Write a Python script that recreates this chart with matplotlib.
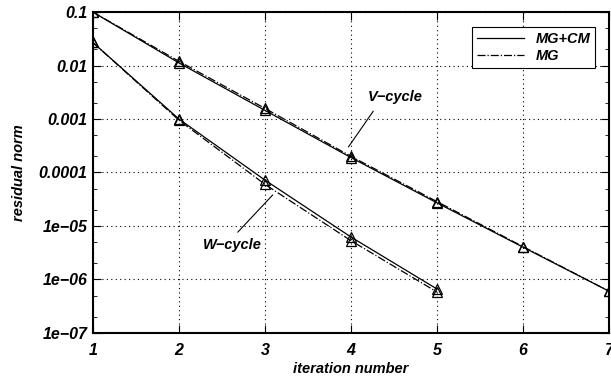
import numpy as np
from matplotlib import pyplot as plt
from matplotlib.ticker import LogLocator, NullFormatter

plt.rcParams['font.family'] = ['Liberation Sans', 'DejaVu Sans']

# data
it_v = [1, 2, 3, 4, 5, 6, 7]
v_mgcm = [0.1, 0.0112, 0.00145, 1.9e-4, 2.7e-5, 4.0e-6, 6.0e-7]
v_mg = [0.1, 0.0120, 0.00158, 2.0e-4, 2.85e-5, 4.1e-6, 6.0e-7]

it_w = [1, 2, 3, 4, 5]
w_mgcm = [0.027, 0.00100, 7.2e-5, 6.2e-6, 6.6e-7]
w_mg = [0.027, 0.00095, 6.0e-5, 5.3e-6, 5.8e-7]

yticks = [1e-1, 1e-2, 1e-3, 1e-4, 1e-5, 1e-6, 1e-7]
ylabels = ['0.1', '0.01', '0.001', '0.0001', '1e\u221205', '1e\u221206', '1e\u221207']

font = dict(fontweight='bold', fontstyle='italic')

fig = plt.figure(figsize=(6.11, 3.77), dpi=100)
ax = fig.add_axes([0.152, 0.117, 0.845, 0.851])

mk = dict(marker='^', markersize=7, markerfacecolor='none', markeredgecolor='black', markeredgewidth=0.9)
ax.plot(it_v, v_mgcm, '-', color='black', lw=0.9, label='MG+CM', **mk)
ax.plot(it_v, v_mg, '-.', color='black', lw=0.9, label='MG', **mk)
ax.plot(it_w, w_mgcm, '-', color='black', lw=0.9, **mk)
ax.plot(it_w, w_mg, '-.', color='black', lw=0.9, **mk)

ax.set_yscale('log')
ax.set_xlim(1, 7)
ax.set_ylim(1e-7, 0.1)
ax.set_yticks(yticks)
ax.set_yticklabels(ylabels)
ax.yaxis.set_minor_locator(LogLocator(base=10, subs=[2, 5]))
ax.yaxis.set_minor_formatter(NullFormatter())
ax.set_xticks(range(1, 8))

ax.tick_params(which='both', direction='in', top=True, right=True, labelsize=11.5)
ax.tick_params(which='major', length=6)
ax.tick_params(which='minor', length=3)
ax.tick_params(axis='x', pad=7)
ax.tick_params(axis='y', pad=4)
for lab in ax.get_xticklabels() + ax.get_yticklabels():
    lab.set_fontweight('bold')
    lab.set_fontstyle('italic')

ax.grid(True, which='major', linestyle=(0, (1, 3)), color='black', lw=0.8)
for s in ax.spines.values():
    s.set_linewidth(1.5)

ax.set_xlabel('iteration number', fontsize=10.5, labelpad=3, **font)
ax.set_ylabel('residual norm', fontsize=10.5, labelpad=9, **font)

ax.annotate('V\u2212cycle', xy=(3.97, 3.0e-4), xytext=(4.19, 2.6e-3),
            fontsize=10.5, va='center', ha='left', **font,
            arrowprops=dict(arrowstyle='-', color='black', lw=0.8, shrinkA=4, shrinkB=0,
                            relpos=(0.2, 0.0)))
ax.annotate('W\u2212cycle', xy=(3.09, 3.8e-5), xytext=(2.62, 4.4e-6),
            fontsize=10.5, va='center', ha='center', **font,
            arrowprops=dict(arrowstyle='-', color='black', lw=0.8, shrinkA=3, shrinkB=0,
                            relpos=(0.5, 1.0)))

leg = ax.legend(loc='upper right', bbox_to_anchor=(0.973, 0.953), borderaxespad=0,
                fancybox=False, edgecolor='black', framealpha=1, handlelength=3.2,
                borderpad=0.35, labelspacing=0.2,
                prop=dict(weight='bold', style='italic', size=10.5))
leg.get_frame().set_linewidth(0.8)
for h in leg.legend_handles:
    h.set_marker('')

fig.savefig('out.png', dpi=100)
